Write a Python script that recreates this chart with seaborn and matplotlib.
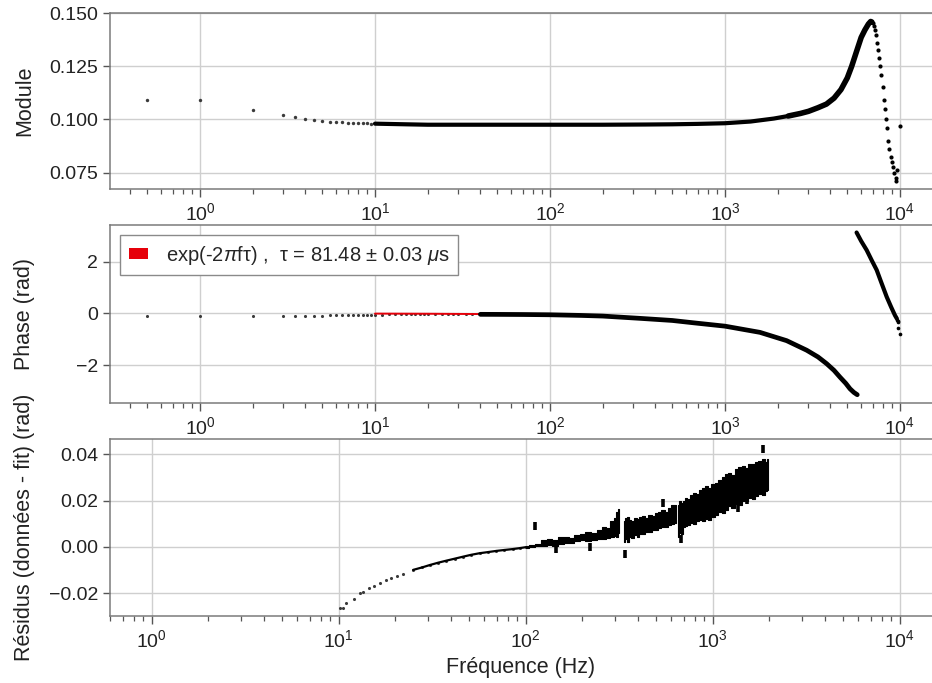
import numpy as np
import pandas as pd
import matplotlib
matplotlib.use("Agg")
import matplotlib.pyplot as plt
from matplotlib.patches import Patch
import seaborn as sns

# ---------------- data ----------------
# Module : isolated low-frequency points
f_mod_pts = [0.5, 1, 2, 3, 3.5, 4, 4.5, 5, 5.5, 6, 6.5, 7, 7.5, 8, 8.5, 9, 9.5]
mod_pts = [0.1089, 0.1089, 0.1045, 0.1020, 0.1013, 0.1003, 0.0998, 0.0993, 0.0990,
           0.0989, 0.0987, 0.0985, 0.0984, 0.0983, 0.0982, 0.0981, 0.0980]
# Module : dense flat part
f_mod_flat = [10, 15, 20, 30, 50, 100, 200, 350, 500, 700, 1000, 1400, 1900, 2300]
mod_flat = [0.0980, 0.0977, 0.0975, 0.0975, 0.0975, 0.0975, 0.0975, 0.0976, 0.0977,
            0.0979, 0.0982, 0.0990, 0.1004, 0.1016]
# Module : rising part up to the resonance peak
f_mod_rise = [2300, 2700, 3000, 3400, 3800, 4200, 4600, 5000, 5300, 5650,
              6000, 6300, 6600, 6800, 6900]
mod_rise = [0.1016, 0.1028, 0.1038, 0.1055, 0.1072, 0.1100, 0.1140,
            0.1195, 0.1250, 0.1320, 0.1385, 0.1420, 0.1448, 0.1460, 0.1458]
# Module : falling side after the peak
f_mod_drop = [7000, 7100, 7200, 7300, 7400, 7500, 7600, 7700, 7800, 7950, 8100, 8200,
              8300, 8400, 8550, 8700, 8850, 9000, 9150, 9300, 9450, 9550, 9650, 10000]
mod_drop = [0.1455, 0.1440, 0.1421, 0.1395, 0.1360, 0.1327, 0.1290, 0.1250, 0.1210,
            0.1150, 0.1092, 0.1050, 0.1000, 0.0960, 0.0900, 0.0860, 0.0825, 0.0800,
            0.0778, 0.0750, 0.0724, 0.0712, 0.0760, 0.0970]

# Phase : isolated low-frequency points
f_ph_pts = [0.5, 1, 2, 3, 3.5, 4, 4.5, 5, 5.5, 6, 6.5, 7, 7.5, 8, 8.5, 9, 9.5,
            10, 11, 12, 13, 14, 15, 16, 17, 18, 19, 20, 22, 24, 26, 28, 30, 33, 36, 40]
ph_pts = [-0.10, -0.10, -0.10, -0.09, -0.09, -0.09, -0.08, -0.08, -0.07, -0.07, -0.065,
          -0.06, -0.06, -0.055, -0.05, -0.05, -0.045, -0.040, -0.040, -0.038, -0.037,
          -0.036, -0.036, -0.035, -0.035, -0.034, -0.034, -0.034, -0.033, -0.033,
          -0.032, -0.032, -0.032, -0.032, -0.032, -0.033]
# Phase : lower dense branch
f_ph_low = [40, 50, 70, 100, 150, 200, 330, 500, 660, 1000, 1585, 2250, 2930, 3400,
            3810, 4200, 4540, 4900, 5180, 5450, 5700]
ph_low = [-0.033, -0.035, -0.040, -0.05, -0.075, -0.10, -0.19, -0.27, -0.36, -0.49,
          -0.73, -1.05, -1.42, -1.68, -1.94, -2.20, -2.46, -2.70, -2.91, -3.05, -3.14]
# Phase : upper branch (after wrapping)
f_ph_up = [5650, 6000, 6450, 6900, 7360, 7800, 8400, 8900, 9360, 9600]
ph_up = [3.13, 2.80, 2.45, 2.05, 1.68, 1.22, 0.64, 0.25, -0.07, -0.20]
f_ph_end = [9650, 9700, 9750, 9800, 10000]
ph_end = [-0.24, -0.28, -0.32, -0.55, -0.80]
# Phase : fitted model exp(-2 pi f tau) (mostly hidden under the data)
f_fit = [10, 20, 50, 100, 200, 330, 500, 700, 1000, 1300, 1600, 2000]
ph_fit = [-0.005, -0.010, -0.026, -0.051, -0.102, -0.175, -0.262, -0.365, -0.500,
          -0.615, -0.735, -0.930]

# Residuals : low-frequency points
f_res_pts = [10.1, 10.5, 11, 12, 13, 13.5, 14.5, 15.5, 16.6, 18, 19, 20.4, 22, 25, 28,
             30.7, 34, 37.7, 42, 46.2, 51, 56.7, 63, 69.7, 77, 85.5, 93, 100]
res_pts = [-0.0265, -0.0262, -0.0243, -0.0225, -0.0200, -0.0193, -0.0178, -0.0167,
           -0.0157, -0.0143, -0.0134, -0.0125, -0.0115, -0.0099, -0.0088, -0.0078,
           -0.0068, -0.0059, -0.0050, -0.0042, -0.0034, -0.0027, -0.0022, -0.0017,
           -0.0013, -0.0009, -0.0005, -0.0001]
# Residuals : dense band (lower / upper envelope), gaps as NaN
f_res_band = [100, 108, 116, 125, 134, 144, 155, 165, 176, 188, 202, 215, 230, 249,
              262, 275, 290, 300, 308, 314, np.nan,
              336, 342, 350, 360, 372, 385, 398, 412, 428, 445, 462, 480, 500, 520,
              542, 565, 590, 610, 626, 640, np.nan,
              656, 668, 680, 700, 720, 745, 770, 800, 830, 860, 895, 930, 965, 1000,
              1047, 1090, 1140, 1190, 1233, 1285, 1340, 1400, 1452, 1510, 1580, 1650,
              1713, 1790, 1860, 1930, 1977]
res_lo = [-0.0005, -0.0002, 0.0002, 0.0005, 0.0007, 0.0004, 0.0012, 0.0015, 0.0018,
          0.0024, 0.0029, 0.0026, 0.0032, 0.0036, 0.0033, 0.0040, 0.0045, 0.0048,
          0.0042, 0.0060, np.nan,
          0.0020, 0.0035, 0.0022, 0.0045, 0.0040, 0.0050, 0.0044, 0.0058, 0.0055,
          0.0064, 0.0066, 0.0072, 0.0075, 0.0080, 0.0088, 0.0085, 0.0095, 0.0100,
          0.0102, 0.0105, np.nan,
          0.0045, 0.0060, 0.0055, 0.0085, 0.0090, 0.0095, 0.0105, 0.0100, 0.0112,
          0.0115, 0.0110, 0.0122, 0.0118, 0.0130, 0.0139, 0.0150, 0.0145, 0.0160,
          0.0175, 0.0170, 0.0185, 0.0180, 0.0197, 0.0200, 0.0210, 0.0205, 0.0219,
          0.0230, 0.0225, 0.0240, 0.0248]
res_hi = [0.0004, 0.0008, 0.0012, 0.0028, 0.0036, 0.0030, 0.0042, 0.0045, 0.0040,
          0.0052, 0.0058, 0.0064, 0.0060, 0.0073, 0.0085, 0.0080, 0.0110, 0.0125,
          0.0150, 0.0165, np.nan,
          0.0110, 0.0125, 0.0131, 0.0118, 0.0112, 0.0125, 0.0120, 0.0128, 0.0135,
          0.0124, 0.0140, 0.0132, 0.0148, 0.0153, 0.0160, 0.0150, 0.0170, 0.0180,
          0.0183, 0.0175, np.nan,
          0.0180, 0.0197, 0.0190, 0.0200, 0.0212, 0.0205, 0.0225, 0.0235, 0.0230,
          0.0248, 0.0255, 0.0262, 0.0255, 0.0270, 0.0277, 0.0290, 0.0300, 0.0315,
          0.0321, 0.0310, 0.0335, 0.0345, 0.0350, 0.0340, 0.0360, 0.0358, 0.0365,
          0.0372, 0.0380, 0.0368, 0.0380]
# Residuals : isolated outliers
f_res_out = [112, 145, 220, 338, 540, 680, 1370, 1530, 1850, 1900]
res_out = [0.0092, -0.0007, 0.0000, -0.0029, 0.0190, 0.0034, 0.0168, 0.0204, 0.0423, 0.0255]

legend_label = "exp(-2$\\pi$fτ) ,  τ = 81.48 ± 0.03 $\\mu$s"

# ---------------- style ----------------
sns.set_theme(style="whitegrid")
plt.rcParams.update({
    "font.family": ["Liberation Sans", "DejaVu Sans"],
    "mathtext.fontset": "custom",
    "mathtext.rm": "Liberation Sans",
    "mathtext.it": "Liberation Sans:italic",
    "mathtext.bf": "Liberation Sans:bold",
    "axes.edgecolor": "#7a7a7a",
    "axes.linewidth": 1.1,
    "grid.color": "#cfcfcf",
    "grid.linewidth": 1.0,
    "xtick.bottom": True,
    "ytick.left": True,
    "xtick.major.size": 6,
    "xtick.minor.size": 3.5,
    "ytick.major.size": 5,
    "xtick.major.width": 1.0,
    "xtick.minor.width": 0.9,
    "ytick.major.width": 1.0,
    "xtick.color": "#555555",
    "ytick.color": "#555555",
    "xtick.labelcolor": "#222222",
    "ytick.labelcolor": "#222222",
    "xtick.labelsize": 14,
    "ytick.labelsize": 14,
    "axes.labelsize": 15.5,
    "axes.labelcolor": "#222222",
})

W, H = 932, 683
fig = plt.figure(figsize=(W / 100, H / 100), dpi=100)

def make_ax(top_px, bot_px):
    left = 110 / W
    return fig.add_axes([left, (H - bot_px) / H, 1 - left, (bot_px - top_px) / H])

ax1 = make_ax(13, 189)
ax2 = make_ax(225, 403)
ax3 = make_ax(439, 616)

for ax in (ax1, ax2, ax3):
    ax.set_xscale("log")
    ax.spines["right"].set_visible(False)
    ax.grid(True, which="major")
    ax.grid(False, which="minor")
    ax.set_axisbelow(True)

dot = "#3a3a3a"

# ---- Module ----
sns.scatterplot(x=f_mod_pts, y=mod_pts, ax=ax1, color=dot, s=6, linewidth=0)
sns.lineplot(x=f_mod_flat, y=mod_flat, ax=ax1, color="black", lw=3.0)
sns.lineplot(x=f_mod_rise, y=mod_rise, ax=ax1, color="black", lw=4.0)
sns.scatterplot(x=f_mod_drop, y=mod_drop, ax=ax1, color="black", s=9, linewidth=0)
ax1.set_xlim(0.306, 15240)
ax1.set_ylim(0.0673, 0.150)
ax1.set_yticks([0.075, 0.100, 0.125, 0.150])
ax1.yaxis.set_major_formatter(matplotlib.ticker.FormatStrFormatter("%.3f"))
ax1.set_ylabel("Module")

# ---- Phase ----
sns.lineplot(x=f_fit, y=ph_fit, ax=ax2, color="#e6000a", lw=1.4)
sns.scatterplot(x=f_ph_pts, y=ph_pts, ax=ax2, color=dot, s=5, linewidth=0)
sns.lineplot(x=f_ph_low, y=ph_low, ax=ax2, color="black", lw=3.4)
sns.lineplot(x=f_ph_up, y=ph_up, ax=ax2, color="black", lw=3.0)
sns.scatterplot(x=f_ph_end, y=ph_end, ax=ax2, color="black", s=7, linewidth=0)
ax2.set_xlim(0.306, 15240)
ax2.set_ylim(-3.46, 3.42)
ax2.set_yticks([-2, 0, 2])
ax2.set_ylabel("Phase (rad)")
leg = ax2.legend(handles=[Patch(facecolor="#e6000a", edgecolor="none", label=legend_label)],
                 loc="upper left", fontsize=14.5, frameon=True, fancybox=False,
                 edgecolor="#8a8a8a", framealpha=1.0, handlelength=0.95,
                 handleheight=0.5, handletextpad=0.9, borderaxespad=0.5,
                 borderpad=0.42)
leg.get_frame().set_linewidth(1.0)

# ---- Residuals ----
sns.scatterplot(x=f_res_pts, y=res_pts, ax=ax3, color=dot, s=5, linewidth=0)
sns.lineplot(x=f_res_pts[13:], y=res_pts[13:], ax=ax3, color="black", lw=1.6)
ax3.fill_between(f_res_band, res_lo, res_hi, step="mid", color="black",
                 linewidth=0.8, edgecolor="black")
sns.scatterplot(x=f_res_out, y=res_out, ax=ax3, color="black", marker="|", s=40,
                linewidth=2.6)
ax3.set_xlim(0.598, 14890)
ax3.set_ylim(-0.0298, 0.0466)
ax3.set_yticks([-0.02, 0.00, 0.02, 0.04])
ax3.yaxis.set_major_formatter(matplotlib.ticker.FuncFormatter(
    lambda v, p: ("\u2212" if v < -1e-12 else "") + f"{abs(v):.2f}"))
ax3.set_ylabel("Résidus (données - fit) (rad)")
ax3.set_xlabel("Fréquence (Hz)")

for ax in (ax1, ax2, ax3):
    ax.yaxis.set_label_coords(-0.091, 0.5)

fig.savefig("out.png", dpi=100)
